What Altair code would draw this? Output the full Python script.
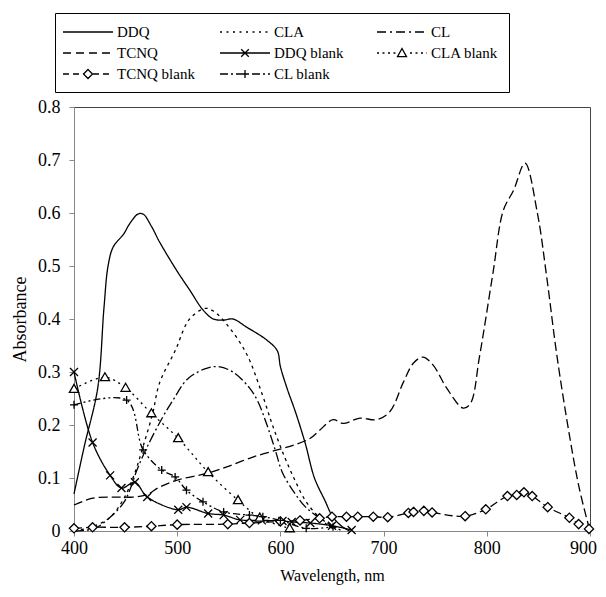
import altair as alt
import pandas as pd

FONT = "Liberation Serif"

series_order = ["DDQ", "CLA", "CL", "TCNQ", "DDQ blank", "CLA blank", "TCNQ blank", "CL blank"]

ddq_wl = [400, 410, 423, 429, 433, 438, 448, 454, 462, 467, 475, 483, 500, 512, 525, 535, 545, 554, 567, 587, 597, 600, 607, 614, 624, 633, 643, 651, 660, 667]
ddq_a = [0.07, 0.16, 0.27, 0.42, 0.50, 0.536, 0.56, 0.58, 0.598, 0.598, 0.575, 0.545, 0.49, 0.455, 0.417, 0.40, 0.398, 0.40, 0.385, 0.36, 0.34, 0.31, 0.266, 0.228, 0.166, 0.10, 0.058, 0.026, 0.008, 0.0]

cla_wl = [400, 418, 435, 448, 459, 467, 476, 483, 498, 512, 527, 535, 548, 567, 582, 593, 604, 614, 624, 634, 645, 655]
cla_a = [0.0, 0.008, 0.026, 0.06, 0.11, 0.16, 0.22, 0.28, 0.34, 0.40, 0.42, 0.415, 0.39, 0.335, 0.26, 0.196, 0.14, 0.096, 0.058, 0.033, 0.012, 0.0]

cl_wl = [400, 420, 435, 448, 454, 461, 471, 486, 496, 509, 520, 530, 540, 554, 570, 578, 587, 595, 602, 614, 624, 637, 650, 660]
cl_a = [0.0, 0.005, 0.026, 0.053, 0.077, 0.115, 0.159, 0.215, 0.247, 0.285, 0.30, 0.308, 0.31, 0.30, 0.27, 0.245, 0.2, 0.153, 0.11, 0.071, 0.046, 0.026, 0.01, 0.0]

tcnq_wl = [400, 418, 438, 457, 470, 483, 500, 529, 548, 574, 597, 613, 629, 638, 651, 661, 677, 693, 706, 719, 729, 738, 748, 761, 777, 784, 793, 806, 816, 826, 837, 849, 858, 868, 881, 890, 900]
tcnq_a = [0.049, 0.062, 0.064, 0.064, 0.068, 0.083, 0.096, 0.109, 0.121, 0.14, 0.153, 0.162, 0.175, 0.19, 0.21, 0.203, 0.213, 0.21, 0.225, 0.28, 0.317, 0.328, 0.313, 0.27, 0.232, 0.24, 0.33, 0.487, 0.605, 0.643, 0.694, 0.60, 0.48, 0.33, 0.17, 0.077, 0.0]

ddqb_wl = [400, 418, 435, 446, 459, 471, 501, 509, 530, 545, 561, 582, 602, 611, 629, 650, 669]
ddqb_a = [0.30, 0.167, 0.105, 0.081, 0.092, 0.064, 0.04, 0.045, 0.033, 0.03, 0.021, 0.02, 0.019, 0.017, 0.015, 0.01, 0.002]

clab_wl = [400, 430, 450, 475, 501, 530, 559, 580, 609]
clab_a = [0.268, 0.29, 0.27, 0.222, 0.175, 0.111, 0.058, 0.025, 0.005]

tcnqb_wl = [400, 418, 449, 475, 500, 549, 570, 600, 619, 638, 650, 664, 675, 690, 704, 724, 729, 739, 747, 779, 799, 820, 829, 836, 844, 859, 880, 889, 899]
tcnqb_a = [0.005, 0.007, 0.007, 0.009, 0.012, 0.013, 0.015, 0.018, 0.02, 0.024, 0.027, 0.027, 0.027, 0.027, 0.026, 0.034, 0.036, 0.038, 0.035, 0.028, 0.041, 0.066, 0.068, 0.073, 0.066, 0.045, 0.025, 0.013, 0.004]

clb_wl = [400, 451, 467, 485, 498, 509, 525, 545, 570, 583, 600, 625, 651]
clb_a = [0.238, 0.247, 0.153, 0.115, 0.102, 0.077, 0.055, 0.036, 0.03, 0.027, 0.02, 0.005, 0.008]

x_ticks = [400, 500, 600, 700, 800, 900]
y_ticks = [0, 0.1, 0.2, 0.3, 0.4, 0.5, 0.6, 0.7, 0.8]

data_map = {
    "DDQ": (ddq_wl, ddq_a),
    "CLA": (cla_wl, cla_a),
    "CL": (cl_wl, cl_a),
    "TCNQ": (tcnq_wl, tcnq_a),
    "DDQ blank": (ddqb_wl, ddqb_a),
    "CLA blank": (clab_wl, clab_a),
    "TCNQ blank": (tcnqb_wl, tcnqb_a),
    "CL blank": (clb_wl, clb_a),
}
rows = []
for s, (wl, a) in data_map.items():
    for w, v in zip(wl, a):
        rows.append({"series": s, "wl": w, "a": v})
df = pd.DataFrame(rows)

# line styles (px)
dash_styles = {
    "DDQ": [1, 0],
    "CLA": [3, 4],
    "CL": [10, 3, 2, 3],
    "TCNQ": [9, 4],
    "DDQ blank": [1, 0],
    "CLA blank": [2, 4],
    "TCNQ blank": [8, 4],
    "CL blank": [7, 3, 2, 3, 2, 3],
}
legend_dash = {
    "DDQ": [],
    "CLA": [2, 4.5],
    "CL": [9, 4, 2, 4],
    "TCNQ": [8, 5],
    "DDQ blank": [],
    "CLA blank": [2, 3.5],
    "TCNQ blank": [6, 4],
    "CL blank": [8, 3, 2, 3],
}
marker_kind = {"DDQ blank": "x", "CLA blank": "tri", "TCNQ blank": "dia", "CL blank": "plus"}

plot_marker = {
    "x": "M-1,-1L1,1M1,-1L-1,1",
    "plus": "M-1,0H1M0,-1V1",
    "tri": "M0,-1.15L1.15,0.85L-1.15,0.85Z",
    "dia": "M0,-1.15L1.15,0L0,1.15L-1.15,0Z",
}

# legend symbol paths: unit = 8px (symbolSize 256)
U = 8.0
LX0, LX1 = -11.0, 39.0
LC = (LX0 + LX1) / 2.0
MW = 4.5


def legend_path(s):
    pat = legend_dash[s]
    segs = []
    if not pat:
        segs = [(LX0, LX1)]
    else:
        pos, i = LX0, 0
        while pos < LX1:
            end = min(pos + pat[i % len(pat)], LX1)
            if i % 2 == 0:
                segs.append((pos, end))
            pos = end
            i += 1
    kind = marker_kind.get(s)
    if kind in ("tri", "dia"):
        clipped = []
        for a, b in segs:
            if b <= LC - MW or a >= LC + MW:
                clipped.append((a, b))
            else:
                if a < LC - MW:
                    clipped.append((a, LC - MW))
                if b > LC + MW:
                    clipped.append((LC + MW, b))
        segs = clipped
    p = "".join(f"M{a / U:.3f},0H{b / U:.3f}" for a, b in segs if b - a > 0.2)
    c = LC / U
    m = MW / U
    if kind == "x":
        k = 3.8 / U
        p += f"M{c - k:.3f},{-k:.3f}L{c + k:.3f},{k:.3f}M{c + k:.3f},{-k:.3f}L{c - k:.3f},{k:.3f}"
    elif kind == "plus":
        k = 4.0 / U
        p += f"M{c - k:.3f},0H{c + k:.3f}M{c:.3f},{-k:.3f}V{k:.3f}"
    elif kind == "tri":
        p += f"M{c:.3f},{-m:.3f}L{c + m:.3f},{0.8 * m:.3f}L{c - m:.3f},{0.8 * m:.3f}Z"
    elif kind == "dia":
        p += f"M{c:.3f},{-m:.3f}L{c + m:.3f},0L{c:.3f},{m:.3f}L{c - m:.3f},0Z"
    return p


x_enc = alt.X("wl:Q", scale=alt.Scale(domain=[400, 900], nice=False),
              axis=alt.Axis(title="Wavelength, nm", values=x_ticks, format="d", grid=False,
                            tickSize=5, labelPadding=3, titlePadding=10, labelFlush=False,
                            labelOffset={"condition": {"test": "datum.value == 900", "value": -7},
                                         "value": 0},
                            titleFontSize=16))
y_enc = alt.Y("a:Q", scale=alt.Scale(domain=[0, 0.8], nice=False),
              axis=alt.Axis(title="Absorbance", values=y_ticks, format=".1~f", grid=False,
                            tickSize=5, labelPadding=9, titlePadding=8, labelFlush=False,
                            titleFontSize=18))

base = alt.Chart(df)

lines = base.mark_line(color="black", strokeWidth=1.3, interpolate="catmull-rom").encode(
    x=x_enc, y=y_enc,
    detail="series:N",
    strokeDash=alt.StrokeDash("series:N", scale=alt.Scale(domain=series_order,
                                                          range=[dash_styles[s] for s in series_order]),
                              legend=None),
)

blank_series = ["DDQ blank", "CLA blank", "TCNQ blank", "CL blank"]
points = base.transform_filter(
    alt.FieldOneOfPredicate(field="series", oneOf=blank_series)
).mark_point(fill="white", stroke="black", strokeWidth=1.3, opacity=1, size=64).encode(
    x="wl:Q", y="a:Q",
    shape=alt.Shape("series:N", scale=alt.Scale(domain=blank_series,
                                                range=[plot_marker[marker_kind[s]] for s in blank_series]),
                    legend=None),
)

legend_layer = base.mark_point(opacity=0, filled=False).encode(
    x="wl:Q", y="a:Q",
    shape=alt.Shape("series:N",
                    scale=alt.Scale(domain=series_order, range=[legend_path(s) for s in series_order]),
                    legend=alt.Legend(title=None, orient="none", legendX=-19, legendY=-94,
                                      direction="horizontal",
                                      columns=3, gridAlign="all", columnPadding=22, rowPadding=4,
                                      padding=10, symbolSize=256, symbolStrokeWidth=1.3,
                                      symbolStrokeColor="black", symbolFillColor="white",
                                      symbolOpacity=1, labelOffset=34, labelFont=FONT,
                                      labelFontSize=15, labelColor="black",
                                      strokeColor="black", fillColor="white")),
)

chart = alt.layer(lines, points, legend_layer).resolve_scale(
    shape="independent", strokeDash="independent"
).properties(
    width=516, height=424,
    autosize=alt.AutoSizeParams(type="none"),
    padding={"left": 66, "top": 99, "right": 8, "bottom": 56},
    background="white",
).configure_view(
    stroke="#444", strokeWidth=1
).configure_axis(
    labelFont=FONT, titleFont=FONT, labelFontSize=18,
    labelColor="black", titleColor="black", titleFontWeight="normal",
    domainColor="#888", tickColor="#888",
)

chart.save("out.html", embed_options={"renderer": "svg", "actions": False})
